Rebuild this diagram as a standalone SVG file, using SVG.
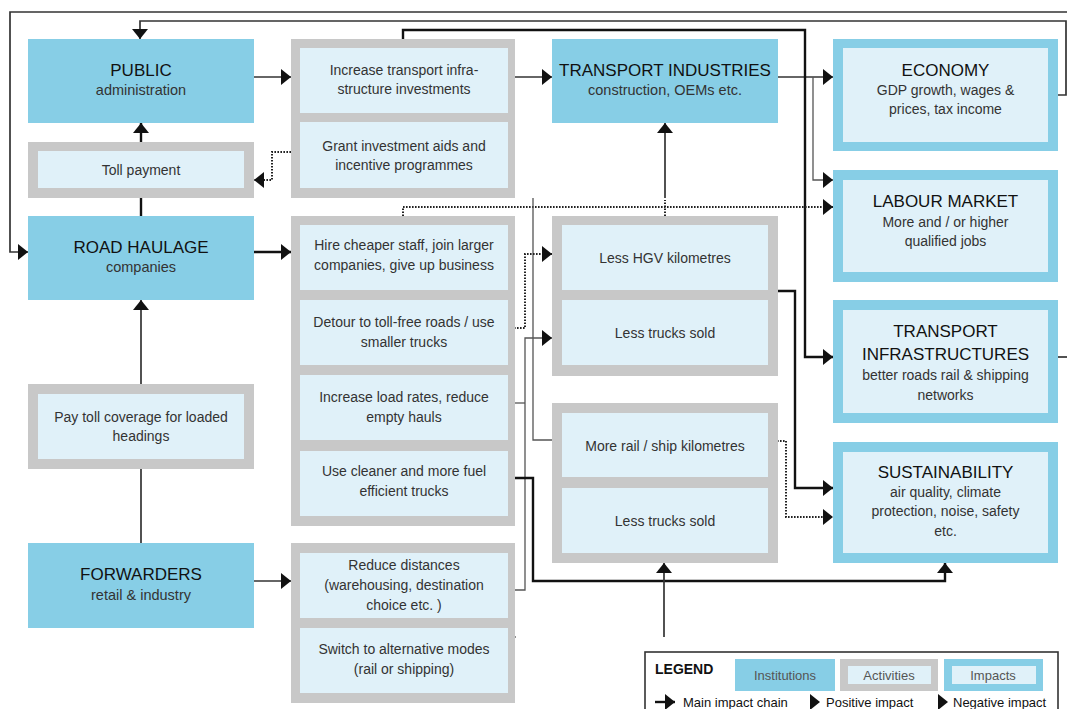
<svg xmlns="http://www.w3.org/2000/svg" width="1067" height="709" viewBox="0 0 1067 709">
<defs>
<marker id="ah" viewBox="0 0 10 16" refX="10" refY="8" markerWidth="10" markerHeight="16" markerUnits="userSpaceOnUse" orient="auto">
<path d="M0,0 L10,8 L0,16 Z" fill="#111"/>
</marker>
</defs>
<style>
.inst{fill:#87CEE6}
.ao{fill:#C8C8C8}
.ai{fill:#E0F1F9}
.io{fill:#87CEE6}
.ii{fill:#E0F1F9}
text{font-family:"Liberation Sans",Arial,sans-serif;text-anchor:middle}
.t{font-size:17px;fill:#111}
.s{font-size:14.5px;fill:#333}
.b{font-size:14px;fill:#333}
.lg{font-size:13px;fill:#555}
.lk{font-size:13px;fill:#111;text-anchor:start}
.ln{fill:none;stroke:#333;stroke-width:1.7}
.lt{fill:none;stroke:#555;stroke-width:1.3}
.lm{fill:none;stroke:#111;stroke-width:2.4}
.ld{fill:none;stroke:#222;stroke-width:2;stroke-dasharray:1.6 1.4}
.arr{marker-end:url(#ah)}
</style>
<rect width="1067" height="709" fill="#fff"/>

<g id="connectors">
<path class="ln arr" d="M1067,12 H10 V252 H28"/>
<path class="ln arr" d="M1058,95 H1066 V21 H140 V39"/>
<path class="ln" d="M1058,357 H1067"/>
<path class="ln arr" d="M254,77 H291"/>
<path class="ln arr" d="M515,77 H552"/>
<path class="ln arr" d="M778,77 H833"/>
<path class="lt arr" d="M813,77 V180 H833"/>
<path class="lm arr" d="M403,39 V30 H805 V357 H833"/>
<path class="ld arr" d="M300,152 H272 V180 H254"/>
<path class="lm arr" d="M141,142 V123"/>
<path class="lm" d="M141,216 V198"/>
<path class="lm arr" d="M254,252 H291"/>
<path class="ln arr" d="M141,384 V300"/>
<path class="ln" d="M141,543 V469"/>
<path class="ln arr" d="M254,581 H291"/>
<path class="ld arr" d="M403,216 V207 H833"/>
<path class="ln arr" d="M665,198 V123"/>
<path class="ld" d="M665,216 V200"/>
<path class="lt" d="M533,198 V440 H552"/>
<path class="ld arr" d="M508,328 H525 V254 H552"/>
<path class="lt" d="M508,403 H525"/>
<path class="lt arr" d="M508,590 H525 V338 H552"/>
<path class="lm arr" d="M508,478 H533 V581 H945 V563"/>
<path class="lt" d="M508,637 H516"/>
<path class="ln arr" d="M664,637 V563"/>
<path class="lm arr" d="M778,291 H795 V488 H833"/>
<path class="ld arr" d="M768,441 H786 V517 H833"/>
</g>

<g id="public">
<rect class="inst" x="28" y="39" width="226" height="84"/>
<text class="t" x="141" y="76">PUBLIC</text>
<text class="s" x="141" y="95">administration</text>
</g>
<g id="toll-payment">
<rect class="ao" x="28" y="142" width="226" height="56"/>
<rect class="ai" x="38" y="151" width="206" height="37"/>
<text class="b" x="141" y="175">Toll payment</text>
</g>
<g id="road-haulage">
<rect class="inst" x="28" y="216" width="226" height="84"/>
<text class="t" x="141" y="253">ROAD HAULAGE</text>
<text class="s" x="141" y="272">companies</text>
</g>
<g id="pay-toll">
<rect class="ao" x="28" y="384" width="226" height="85"/>
<rect class="ai" x="38" y="394" width="206" height="65"/>
<text class="b" x="141" y="422">Pay toll coverage for loaded</text>
<text class="b" x="141" y="441">headings</text>
</g>
<g id="forwarders">
<rect class="inst" x="28" y="543" width="226" height="85"/>
<text class="t" x="141" y="580">FORWARDERS</text>
<text class="s" x="141" y="600">retail &amp; industry</text>
</g>

<g id="public-activities">
<rect class="ao" x="291" y="39" width="224" height="159"/>
<rect class="ai" x="300" y="48" width="208" height="65"/>
<text class="b" x="404" y="75">Increase transport infra-</text>
<text class="b" x="404" y="94">structure investments</text>
<rect class="ai" x="300" y="122" width="208" height="66"/>
<text class="b" x="404" y="151">Grant investment aids and</text>
<text class="b" x="404" y="170">incentive programmes</text>
</g>

<g id="haulage-activities">
<rect class="ao" x="291" y="216" width="224" height="310"/>
<rect class="ai" x="300" y="225" width="208" height="65"/>
<text class="b" x="404" y="250">Hire cheaper staff, join larger</text>
<text class="b" x="404" y="270">companies, give up business</text>
<rect class="ai" x="300" y="300" width="208" height="65"/>
<text class="b" x="404" y="327">Detour to toll-free roads / use</text>
<text class="b" x="404" y="347">smaller trucks</text>
<rect class="ai" x="300" y="375" width="208" height="65"/>
<text class="b" x="404" y="402">Increase load rates, reduce</text>
<text class="b" x="404" y="422">empty hauls</text>
<rect class="ai" x="300" y="451" width="208" height="65"/>
<text class="b" x="404" y="476">Use cleaner and more fuel</text>
<text class="b" x="404" y="496">efficient trucks</text>
</g>

<g id="forwarder-activities">
<rect class="ao" x="291" y="543" width="224" height="160"/>
<rect class="ai" x="300" y="553" width="208" height="65"/>
<text class="b" x="404" y="570">Reduce distances</text>
<text class="b" x="404" y="590">(warehousing, destination</text>
<text class="b" x="404" y="610">choice etc. )</text>
<rect class="ai" x="300" y="628" width="208" height="65"/>
<text class="b" x="404" y="654">Switch to alternative modes</text>
<text class="b" x="404" y="674">(rail or shipping)</text>
</g>

<g id="transport-industries">
<rect class="inst" x="552" y="39" width="226" height="84"/>
<text class="t" x="665" y="76">TRANSPORT INDUSTRIES</text>
<text class="s" x="665" y="95">construction, OEMs etc.</text>
</g>

<g id="road-impacts">
<rect class="ao" x="552" y="216" width="226" height="160"/>
<rect class="ai" x="562" y="225" width="206" height="65"/>
<text class="b" x="665" y="263">Less HGV kilometres</text>
<rect class="ai" x="562" y="300" width="206" height="65"/>
<text class="b" x="665" y="338">Less trucks sold</text>
</g>

<g id="rail-impacts">
<rect class="ao" x="552" y="403" width="226" height="160"/>
<rect class="ai" x="562" y="413" width="206" height="64"/>
<text class="b" x="665" y="451">More rail / ship kilometres</text>
<rect class="ai" x="562" y="488" width="206" height="65"/>
<text class="b" x="665" y="526">Less trucks sold</text>
</g>

<g id="economy">
<rect class="io" x="833" y="39" width="225" height="112"/>
<rect class="ii" x="843" y="48" width="205" height="94"/>
<text class="t" x="945.5" y="76">ECONOMY</text>
<text class="b" x="945.5" y="95">GDP growth, wages &amp;</text>
<text class="b" x="945.5" y="114">prices, tax income</text>
</g>
<g id="labour-market">
<rect class="io" x="833" y="170" width="225" height="112"/>
<rect class="ii" x="843" y="180" width="205" height="92"/>
<text class="t" x="945.5" y="207">LABOUR MARKET</text>
<text class="b" x="945.5" y="227">More and  / or higher</text>
<text class="b" x="945.5" y="246">qualified jobs</text>
</g>
<g id="transport-infrastructures">
<rect class="io" x="833" y="300" width="225" height="123"/>
<rect class="ii" x="843" y="310" width="205" height="103"/>
<text class="t" x="945.5" y="337">TRANSPORT</text>
<text class="t" x="945.5" y="360">INFRASTRUCTURES</text>
<text class="b" x="945.5" y="380">better roads rail &amp; shipping</text>
<text class="b" x="945.5" y="400">networks</text>
</g>
<g id="sustainability">
<rect class="io" x="833" y="442" width="225" height="121"/>
<rect class="ii" x="843" y="452" width="205" height="101"/>
<text class="t" x="945.5" y="478">SUSTAINABILITY</text>
<text class="b" x="945.5" y="497">air quality, climate</text>
<text class="b" x="945.5" y="516">protection, noise, safety</text>
<text class="b" x="945.5" y="536">etc.</text>
</g>

<g id="legend">
<rect x="645" y="652" width="413" height="70" fill="#fff" stroke="#333" stroke-width="1.6"/>
<text x="655" y="674" style="font-size:14px;font-weight:bold;fill:#111;text-anchor:start">LEGEND</text>
<rect class="inst" x="735" y="659" width="100" height="32"/>
<text class="lg" x="785" y="680">Institutions</text>
<rect class="ao" x="840" y="659" width="98" height="32"/>
<rect class="ai" x="848" y="666" width="83" height="18"/>
<text class="lg" x="889" y="680">Activities</text>
<rect class="io" x="944" y="659" width="99" height="32"/>
<rect class="ii" x="952" y="666" width="84" height="18"/>
<text class="lg" x="993" y="680">Impacts</text>
<path class="lm arr" d="M655,702 H675"/>
<text class="lk" x="683" y="707">Main impact chain</text>
<path d="M810,694 L820,702 L810,710 Z" fill="#111"/>
<text class="lk" x="826" y="707">Positive impact</text>
<path d="M938,694 L948,702 L938,710 Z" fill="#111"/>
<text class="lk" x="953" y="707">Negative impact</text>
</g>
</svg>
